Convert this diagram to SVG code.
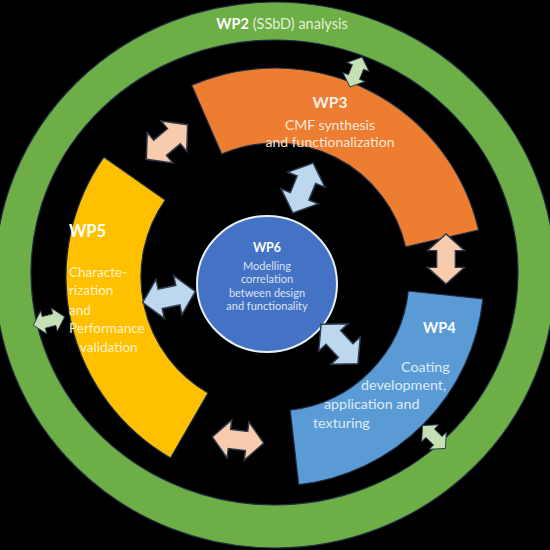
<svg xmlns="http://www.w3.org/2000/svg" width="550" height="550" viewBox="0 0 550 550">
<style>
.t{font-family:Lato,"Open Sans","Liberation Sans",sans-serif}
.b{font-weight:bold}
.edge{stroke:#1E2D45;stroke-width:1.2;stroke-linejoin:round}
.arr{stroke:#2E3A4E;stroke-width:1.5;stroke-linejoin:miter}
.peach{fill:#F8CBAD}
.lblue{fill:#BDD7EE}
.lgreen{fill:#C5E0B4}
</style>
<defs>
<path id="dbl" d="M-27,0 L-9,-20 L-9,-10 L9,-10 L9,-20 L27,0 L9,20 L9,10 L-9,10 L-9,20 Z"/>
</defs>
<rect x="0" y="0" width="550" height="550" fill="#000"/>
<g id="wp2">
<path class="edge" fill="#6DAE46" fill-rule="evenodd" d="M-5,275 A280,273 0 1,0 555,275 A280,273 0 1,0 -5,275 Z M31,272.5 A243.5,232.5 0 1,0 518,272.5 A243.5,232.5 0 1,0 31,272.5 Z"/>
<text class="t" x="282" y="29" font-size="14.5" text-anchor="middle" fill="#E2F0D9"><tspan class="b" fill="#FFFFFF">WP2</tspan> (SSbD) analysis</text>
</g>
<g id="wp5">
<path class="edge" fill="#FFC000" d="M170.5,458 A209,209 0 0,1 103.8,157.1 L165.2,200.1 A134,134 0 0,0 208,393 Z"/>
<text class="t b" x="69" y="237" font-size="16.5" fill="#FFFFFF">WP5</text>
<text class="t" font-size="13.5" fill="#FFF2CC"><tspan x="69" y="277">Characte-</tspan><tspan x="69" y="295">rization</tspan><tspan x="69" y="315">and</tspan><tspan x="69" y="333">Performance</tspan><tspan x="80" y="352">validation</tspan></text>
</g>
<g id="wp3">
<path class="edge" fill="#ED7D31" d="M191.7,85.3 A209,209 0 0,1 478.6,230 L405.6,246.9 A134,134 0 0,0 221.6,154.1 Z"/>
<text class="t b" x="330" y="108" font-size="15.5" text-anchor="middle" fill="#FDF0E6">WP3</text>
<text class="t" font-size="14" text-anchor="middle" fill="#FBE5D6"><tspan x="330" y="130">CMF synthesis</tspan><tspan x="330" y="147">and functionalization</tspan></text>
</g>
<g id="wp4">
<path class="edge" fill="#5B9BD5" d="M482.9,298.8 A209,209 0 0,1 298.7,484.7 L290.2,410.1 A134,134 0 0,0 408.3,291 Z"/>
<text class="t b" x="423" y="333" font-size="14.5" fill="#FFFFFF">WP4</text>
<text class="t" font-size="14.3" fill="#DEEBF7"><tspan x="401" y="372">Coating</tspan><tspan x="361" y="390">development,</tspan><tspan x="324" y="409">application and</tspan><tspan x="313" y="428">texturing</tspan></text>
</g>
<g id="wp6">
<ellipse cx="267" cy="284" rx="70" ry="68" fill="#4472C4" stroke="#E8EEF8" stroke-width="2"/>
<text class="t b" x="267" y="252" font-size="12.5" text-anchor="middle" fill="#FFFFFF">WP6</text>
<text class="t" font-size="11" text-anchor="middle" fill="#DAE3F3"><tspan x="267" y="270">Modelling</tspan><tspan x="267" y="283.3">correlation</tspan><tspan x="267" y="296.6">between design</tspan><tspan x="267" y="310">and functionality</tspan></text>
</g>
<g id="connectors">
<use href="#dbl" class="arr peach" transform="translate(167,142) rotate(-40)"/>
<use href="#dbl" class="arr peach" transform="translate(446,259) rotate(90) scale(0.93)"/>
<use href="#dbl" class="arr peach" transform="translate(238,440) rotate(7) scale(0.96)"/>
<use href="#dbl" class="arr lblue" transform="translate(303,188) rotate(-68)"/>
<use href="#dbl" class="arr lblue" transform="translate(169,297) rotate(-12)"/>
<use href="#dbl" class="arr lblue" transform="translate(339.5,344) rotate(47)"/>
<use href="#dbl" class="arr lgreen" transform="translate(356,72) rotate(-68) scale(0.6)"/>
<use href="#dbl" class="arr lgreen" transform="translate(49,321) rotate(-15) scale(0.6)"/>
<use href="#dbl" class="arr lgreen" transform="translate(434,437) rotate(45) scale(0.6)"/>
</g>
</svg>
